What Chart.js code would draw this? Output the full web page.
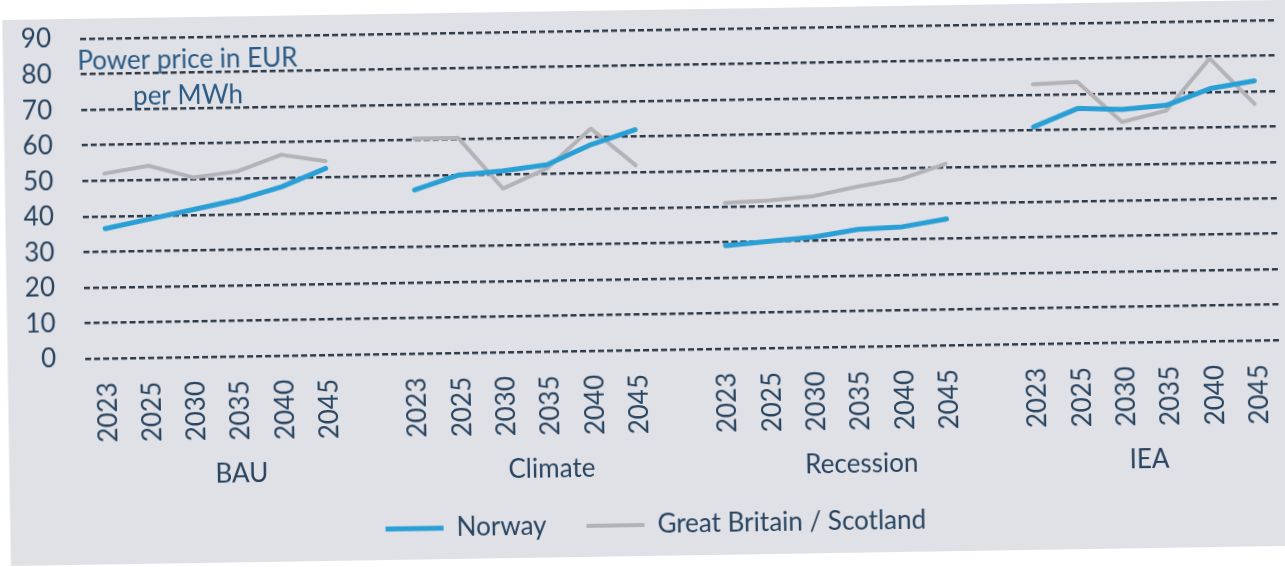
<!DOCTYPE html>
<html>
<head>
<meta charset="utf-8">
<script src="https://cdn.jsdelivr.net/npm/chart.js@4.4.1/dist/chart.umd.min.js"></script>
<style>
  html, body { margin: 0; padding: 0; background: #ffffff; overflow: hidden; width: 1285px; height: 567px; }
  #wrap { position: absolute; left: 0; top: 0; width: 1305px; height: 567px;
          transform: rotate(-0.9deg); transform-origin: 642px 283px; }
  canvas { display: block; }
</style>
</head>
<body>
<div id="wrap"><canvas id="c" width="1305" height="567"></canvas></div>
<script>
// Scenario groups and the years shown inside each group
const scenarios = ['BAU', 'Climate', 'Recession', 'IEA'];
const years = ['2023', '2025', '2030', '2035', '2040', '2045'];

// Power price, EUR per MWh
const norwayBAU       = [36.5, 39, 41.5, 44, 47.5, 52.5];
const norwayClimate   = [46, 50, 51, 52.5, 58, 62];
const norwayRecession = [29, 30, 31, 33, 33.5, 35.5];
const norwayIEA       = [61, 66, 65.5, 66.5, 71, 73];

const gbBAU       = [52, 54, 50.5, 52, 56.5, 54.5];
const gbClimate   = [60.5, 60.5, 46, 51.5, 62.5, 52];
const gbRecession = [41, 41.5, 42.5, 45, 47, 51];
const gbIEA       = [73, 73.5, 62, 65, 79.5, 66.5];

const yTicks = [0, 10, 20, 30, 40, 50, 60, 70, 80, 90];

const FONT = 'Lato, "Open Sans", sans-serif';
const FONT_SIZE = 26;
const TEXT = '#284460';

// One empty category separates the scenario groups; null breaks the line there
function joinGroups(groups, blank) {
  const out = [];
  groups.forEach((g, i) => {
    out.push(...g);
    if (i < groups.length - 1) out.push(blank);
  });
  return out;
}
const labels = joinGroups(scenarios.map(() => years), '');
const norway = joinGroups([norwayBAU, norwayClimate, norwayRecession, norwayIEA], null);
const britain = joinGroups([gbBAU, gbClimate, gbRecession, gbIEA], null);

// Centre index of each scenario group (the gap after a group belongs to it)
const groupCenters = scenarios.map((s, i) => {
  const start = i * (years.length + 1);
  const end = Math.min(start + years.length, labels.length - 1);
  return (start + end) / 2;
});

const panelPlugin = {
  id: 'panel',
  beforeDraw(chart) {
    const ctx = chart.ctx;
    ctx.save();
    ctx.fillStyle = '#e0e1e6';
    ctx.fillRect(6.5, 10, chart.width, 546);
    ctx.restore();
  }
};

const groupLabelPlugin = {
  id: 'groupLabels',
  afterDraw(chart) {
    const ctx = chart.ctx;
    const x = chart.scales.x;
    ctx.save();
    ctx.font = FONT_SIZE + 'px ' + FONT;
    ctx.fillStyle = TEXT;
    ctx.textAlign = 'center';
    ctx.textBaseline = 'middle';
    scenarios.forEach((s, i) => {
      ctx.fillText(s, x.getPixelForValue(groupCenters[i]), 468);
    });
    ctx.restore();
  }
};

const unitPlugin = {
  id: 'unitText',
  afterDraw(chart) {
    const ctx = chart.ctx;
    const a = chart.chartArea;
    ctx.save();
    ctx.font = FONT_SIZE + 'px ' + FONT;
    ctx.fillStyle = '#2a5a84';
    ctx.textAlign = 'center';
    ctx.textBaseline = 'middle';
    ctx.fillText('Power price in EUR', a.left + 107, a.top + 23);
    ctx.fillText('per MWh', a.left + 107, a.top + 59);
    ctx.restore();
  }
};

new Chart(document.getElementById('c'), {
  type: 'line',
  data: {
    labels: labels,
    datasets: [
      {
        label: 'Norway',
        data: norway,
        borderColor: '#2a9fd6',
        backgroundColor: '#2a9fd6',
        borderWidth: 5,
        pointRadius: 0,
        tension: 0,
        spanGaps: false,
        borderCapStyle: 'round',
        borderJoinStyle: 'round'
      },
      {
        label: 'Great Britain / Scotland',
        data: britain,
        borderColor: '#b3b3b7',
        backgroundColor: '#b3b3b7',
        borderWidth: 4,
        pointRadius: 0,
        tension: 0,
        spanGaps: false,
        borderCapStyle: 'round',
        borderJoinStyle: 'round'
      }
    ]
  },
  options: {
    responsive: false,
    animation: false,
    layout: { padding: { left: 21, right: 22, top: 30, bottom: 19 } },
    plugins: {
      tooltip: { enabled: false },
      legend: {
        position: 'bottom',
        labels: {
          usePointStyle: true,
          pointStyle: 'line',
          pointStyleWidth: 58,
          padding: 40,
          color: TEXT,
          font: { family: FONT, size: FONT_SIZE }
        }
      }
    },
    scales: {
      x: {
        type: 'category',
        offset: true,
        grid: { display: false },
        border: { display: false },
        ticks: {
          autoSkip: false,
          minRotation: 90,
          maxRotation: 90,
          padding: 16,
          color: TEXT,
          font: { family: FONT, size: FONT_SIZE }
        },
        afterFit(scale) { scale.height = 122; }
      },
      y: {
        min: yTicks[0],
        max: yTicks[yTicks.length - 1],
        grid: { color: '#2e3a48', lineWidth: 2.5, drawTicks: false },
        border: { display: false, dash: [6, 3] },
        ticks: {
          stepSize: yTicks[1] - yTicks[0],
          padding: 29,
          color: TEXT,
          font: { family: FONT, size: FONT_SIZE }
        },
        afterFit(scale) {
          scale.width = 63;
          scale.paddingTop = 0;
          scale.paddingBottom = 0;
        }
      }
    }
  },
  plugins: [panelPlugin, groupLabelPlugin, unitPlugin]
});
</script>
</body>
</html>
